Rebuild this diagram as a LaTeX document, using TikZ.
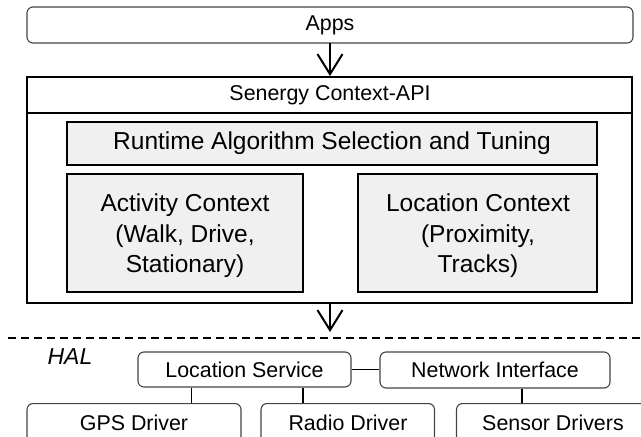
\documentclass[tikz,border=0pt]{standalone}
\usepackage{fontspec}
\setmainfont{Liberation Sans}
\usetikzlibrary{arrows.meta}
\definecolor{boxgray}{HTML}{F0F0F0}
\definecolor{edgegray}{HTML}{444444}
\tikzset{
  rbox/.style={draw=edgegray, line width=1.1pt, rounded corners=6pt, inner sep=0pt},
  gbox/.style={draw=black, fill=boxgray, line width=1.1pt, inner sep=0pt},
  small/.style={font=\fontsize{21.4}{25}\selectfont},
  large/.style={font=\fontsize{24.5}{30.5}\selectfont, align=center},
  bigarrow/.style={line width=2pt, -{Straight Barb[length=20pt,width=25pt,line width=2pt]}},
  conn/.style={line width=1.1pt, draw=black}
}
\begin{document}
\begin{tikzpicture}[x=1pt,y=-1pt]
\useasboundingbox (0,0) rectangle (641,437);
\clip (0,0) rectangle (641,437);
% Apps
\draw[rbox] (27,7) rectangle (633,43);
\node[small] (apps) at (330,25) {Apps};
\coordinate (appsb) at (330,43);
% Big box
\draw[line width=2.6pt] (27,77) rectangle (632,303);
\draw[line width=2.6pt] (27,113) -- (632,113);
\node[small] (api) at (330,95) {Senergy Context-API};
\coordinate (bigtop) at (330,76);
\coordinate (bigbot) at (330,303);
% Inner boxes
\draw[gbox] (67,122) rectangle (597,165);
\node[large] (rt) at (332,143.5) {Runtime Algorithm Selection and Tuning};
\draw[gbox] (67,174) rectangle (303,292);
\node[large] (act) at (185,236) {Activity Context\\(Walk, Drive,\\Stationary)};
\draw[gbox] (358,174) rectangle (597,292);
\node[large] (loc) at (478,236) {Location Context\\(Proximity,\\Tracks)};
% arrows
\draw[bigarrow] (appsb) -- (bigtop);
\coordinate (dashtop) at (330,332);
\draw[bigarrow] (bigbot) -- (dashtop);
% dashed line
\draw[line width=2pt, dash pattern=on 8pt off 5pt] (8,338) -- (645,338);
\node[font=\fontsize{23}{27}\selectfont\itshape] (hal) at (70,357) {HAL};
% HAL boxes
\node[rbox, small, minimum width=213pt, minimum height=35pt] (ls) at (244.5,369.5) {Location Service};
\node[rbox, small, minimum width=230pt, minimum height=36pt] (ni) at (495,370) {Network Interface};
\node[rbox, small, minimum width=214pt, minimum height=40pt, anchor=north] (gps) at (134,403) {};
\node[small] (gpst) at (134,423) {GPS Driver};
\node[rbox, small, minimum width=173.5pt, minimum height=40pt, anchor=north] (radio) at (347.75,403) {};
\node[small] (radiot) at (348,423) {Radio Driver};
\node[rbox, small, minimum width=193pt, minimum height=40pt, anchor=north] (sensor) at (553,403) {};
\node[small] (sensort) at (553,423) {Sensor Drivers};
% connectors
\draw[conn] (ls.east) -- (ls.east -| ni.west);
\draw[conn] (191.5,0 |- ls.south) coordinate (a1) -- (a1 |- gps.north);
\draw[conn] (303,0 |- ls.south) coordinate (a2) -- (a2 |- radio.north);
\draw[conn] (522,0 |- ni.south) coordinate (a3) -- (a3 |- sensor.north);
\end{tikzpicture}
\end{document}
